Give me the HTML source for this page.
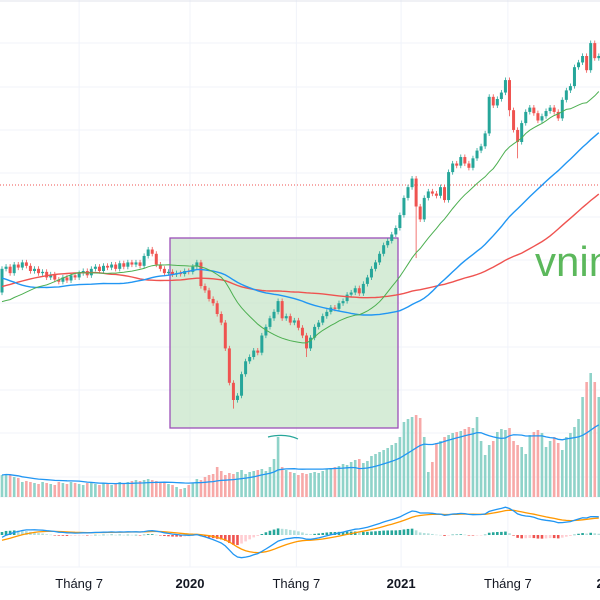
<!DOCTYPE html>
<html><head><meta charset="utf-8"><style>
html,body{margin:0;padding:0;background:#fff;width:600px;height:600px;overflow:hidden}
svg{display:block;font-family:"Liberation Sans",sans-serif}
</style></head><body>
<svg id="chart" width="600" height="600" viewBox="0 0 600 600" xmlns="http://www.w3.org/2000/svg">
<rect x="0" y="0" width="600" height="600" fill="#fff"/>
<g id="grid"></g>
<line x1="0" y1="1" x2="600" y2="1" stroke="#e0e3eb"/>
<line x1="0" y1="185" x2="600" y2="185" stroke="#ef5350" stroke-dasharray="1,2" stroke-width="1"/>
<g id="vol"></g>
<rect x="170" y="238" width="228" height="190" fill="#c8e6c9" fill-opacity="0.75" stroke="#9c4fb8" stroke-width="1.3"/>
<g id="price"></g>
<g id="macd"></g>
<path d="M268 437 Q285 433 298 439" fill="none" stroke="#26a69a" stroke-width="1.2"/>
<text x="535" y="276" font-size="42" fill="#5cb85c">vnindex</text>
<g id="axis"></g>
</svg>
<script>
const prior=[710,715,720,715,718,725,730,735,740,745,750,755,760,765,770,775,775,780,778,782,785,790,795,800,805,810,815,820,830,840,850,860,870,880,900,920,930,940,950,960,970,985,984,
1010,1050,1100,1120,1080,1040,1100,1120,1150,1170,1180,1200,1170,1130,1080,1050,1020,980,1000,970,960,950,920,900,940,950,960,970,980,990,985,975,990,1010,1020,1010,1000,985,960,950,920,930,940,920,910,915,930,950,940,920,900,892,
900,905,910,930,950];
const closes=[1005,1010,995,1015,1008,1020,1012,1000,1005,995,998,985,992,980,975,985,978,990,985,995,1000,990,1005,1010,1000,1012,1008,1015,1005,1018,1010,1020,1015,1020,1012,1035,1050,1040,1015,1005,995,998,992,995,993,1000,998,1010,
1020,965,955,935,925,900,880,820,740,700,710,760,790,800,815,810,850,870,890,905,930,890,895,880,885,868,850,820,845,870,880,895,905,915,912,925,930,945,950,960,948,970,985,1005,1020,1040,1060,1070,1085,1100,1130,1170,
1195,1215,1150,1120,1170,1185,1180,1175,1195,1165,1230,1250,1245,1265,1250,1240,1262,1280,1290,1320,1405,1385,1400,1415,1444,1374,1328,1300,1344,1370,1380,1367,1350,1360,1372,1380,1370,1355,1398,1420,1430,1474,1485,1500,1467,1530,1495,1500];
const volumes=[220,230,220,200,190,150,160,150,140,130,150,140,130,120,150,140,130,150,140,130,120,140,150,130,120,140,130,120,130,150,140,150,160,170,160,170,180,170,160,150,140,130,120,100,80,90,120,140,
180,170,200,220,230,300,260,220,240,230,250,270,
230,250,260,270,280,260,300,380,600,300,270,250,240,220,240,230,240,250,240,260,280,
290,300,310,330,320,350,370,380,340,360,410,430,450,470,490,520,540,600,750,780,
800,820,790,600,250,350,540,560,600,620,640,650,660,680,700,690,800,560,420,520,560,650,680,670,690,560,520,500,430,620,650,670,640,500,560,600,540,470,600,640,700,780,1000,1150,1240,1150,1000];
const longWicks={102:1030,127:1262,57:680,125:1360,75:800};
const xLabels=["Tháng 7","2020","Tháng 7","2021","Tháng 7","2022"];
const xLabelWeeks=[19,46.3,72.5,98.3,124.6,150];
const xLabelBold=[false,true,false,true,false,true];

const NS="http://www.w3.org/2000/svg";
const xOf=i=>2+i*4.06;
const yP=p=>185+(1200-p)*0.43;
const yV=v=>497-v*0.1;
const yM=m=>535-m*0.33;
function mk(tag,attrs,parent){const e=document.createElementNS(NS,tag);for(const k in attrs)e.setAttribute(k,attrs[k]);parent.appendChild(e);return e;}

const grid=document.getElementById('grid');
[43,87,130,173,217,260,303,347,390,433,477,497,567].forEach(y=>{const l=mk('line',{x1:0,y1:y,x2:600,y2:y,stroke:'#f0f3fa'},grid);

});
xLabelWeeks.forEach(w=>{const l=mk('line',{x1:xOf(w),y1:0,x2:xOf(w),y2:567,stroke:'#f0f3fa'},grid);

});

const all=prior.concat(closes), off=prior.length;
function sma(arr,n,i){let s=0,c=0;for(let k=Math.max(0,i-n+1);k<=i;k++){s+=arr[k];c++;}return s/c;}

const vg=document.getElementById('vol');
volumes.forEach((v,i)=>{const o=i===0?prior[prior.length-1]:closes[i-1];const up=closes[i]>=o;
const r=mk('rect',{x:xOf(i)-1.3,y:yV(v),width:2.6,height:497-yV(v),fill:up?'#8fd3c9':'#f7a9a8'},vg);

});
let vp='';volumes.forEach((v,i)=>{vp+=(i?'L':'M')+xOf(i).toFixed(1)+' '+yV(sma(volumes,20,i)).toFixed(1);});
const vma=mk('path',{d:vp,fill:'none',stroke:'#2196f3','stroke-width':1.3},vg);



const pg=document.getElementById('price');
closes.forEach((c,i)=>{const o=all[off+i-1];const up=c>=o;const col=up?'#26a69a':'#ef5350';
const hi=Math.max(o,c)+6, lo=(longWicks[i]!==undefined)?longWicks[i]:Math.min(o,c)-6;
const w=mk('line',{x1:xOf(i),y1:yP(hi),x2:xOf(i),y2:yP(lo),stroke:col,'stroke-width':0.8},pg);


const b=mk('rect',{x:xOf(i)-1.5,y:yP(Math.max(o,c)),width:3,height:Math.max(1,Math.abs(yP(o)-yP(c))),fill:col},pg);

});
[[80,'#ef5350','ma-long-line'],[50,'#2196f3','ma50-line'],[20,'#4caf50','ma20-line']].forEach(([n,col,name])=>{
let d='';closes.forEach((c,i)=>{d+=(i?'L':'M')+xOf(i).toFixed(1)+' '+yP(sma(all,n,off+i)).toFixed(1);});
const p=mk('path',{d:d,fill:'none',stroke:col,'stroke-width':n===20?1:1.4},pg);

});

const mg=document.getElementById('macd');
let e12=all[0],e26=all[0],sig=0;const mac=[],sg=[];
all.forEach((p,i)=>{e12=e12+(p-e12)*2/13;e26=e26+(p-e26)*2/27;const m=e12-e26;sig=sig+(m-sig)*0.2;if(i>=off){mac.push(m);sg.push(sig);}});
mac.forEach((m,i)=>{const h=m-sg[i];const prev=i?mac[i-1]-sg[i-1]:h;const col=h>=0?(h>=prev?'#26a69a':'#b2dfdb'):(h<prev?'#ef5350':'#ffcdd2');
const r=mk('rect',{x:xOf(i)-1.3,y:Math.min(yM(0),yM(h)),width:2.6,height:Math.max(0.5,Math.abs(yM(h)-yM(0))),fill:col},mg);

});
[[sg,'#ff9800','macd-signal-line'],[mac,'#2196f3','macd-line']].forEach(([arr,col,name])=>{
let d='';arr.forEach((v,i)=>{d+=(i?'L':'M')+xOf(i).toFixed(1)+' '+yM(v).toFixed(1);});
const p=mk('path',{d:d,fill:'none',stroke:col,'stroke-width':1.3},mg);

});

const ag=document.getElementById('axis');
xLabels.forEach((t,k)=>{const e=mk('text',{x:xOf(xLabelWeeks[k]),y:588,'text-anchor':'middle','font-size':13,fill:'#131722','font-weight':xLabelBold[k]?'bold':'normal'},ag);
e.textContent=t;

});
</script>
</body></html>
